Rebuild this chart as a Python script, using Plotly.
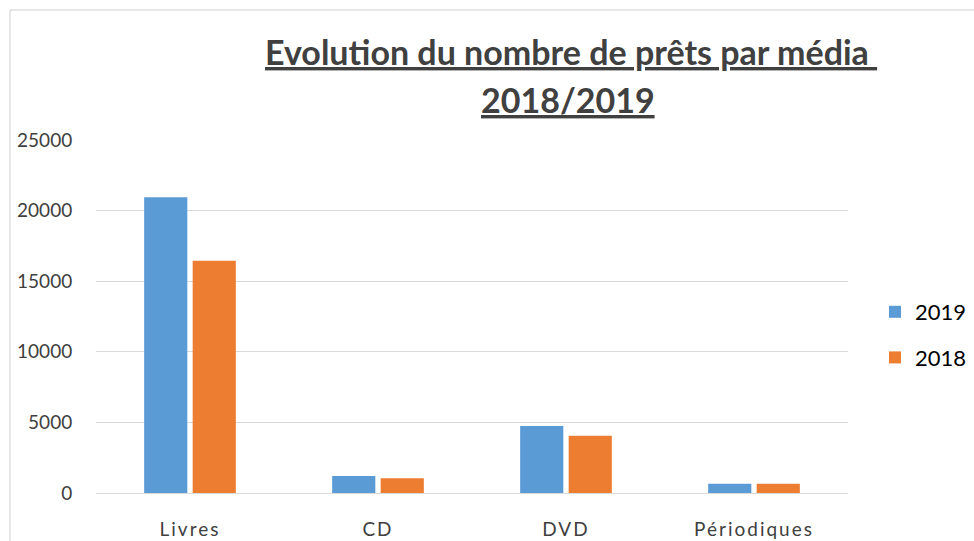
import plotly.graph_objects as go

categories = ["Livres", "CD", "DVD", "Périodiques"]
values_2019 = [20950, 1200, 4750, 650]
values_2018 = [16450, 1050, 4050, 650]
series_names = ["2019", "2018"]
title_line1 = "Evolution du nombre de prêts par média "
title_line2 = "2018/2019"

BLUE = "#5B9BD5"
ORANGE = "#ED7D31"

W, H = 974, 541
L = 96
R = W - 848
T = 140
B = H - 493
pw, ph = W - L - R, H - T - B


def px_x(x):
    return (x - L) / pw


def px_y(y):
    return (H - B - y) / ph


def cx(x):
    return x / W


def cy(y):
    return 1 - y / H


fig = go.Figure()
fig.add_trace(go.Bar(x=categories, y=values_2019, name=series_names[0],
                     marker=dict(color=BLUE, line=dict(width=0)), legendgroup="a"))
fig.add_trace(go.Bar(x=categories, y=values_2018, name=series_names[1],
                     marker=dict(color=ORANGE, line=dict(width=0)), legendgroup="b"))

ticktext = ['<span style="letter-spacing:2px">' + c + '</span>' for c in categories]

fig.update_layout(
    width=W, height=H,
    margin=dict(l=L, r=R, t=T, b=B, autoexpand=False),
    paper_bgcolor="white", plot_bgcolor="white",
    barmode="group", bargap=0.484, bargroupgap=0.11,
    font=dict(family="Lato, Open Sans, sans-serif", color="#404040"),
    showlegend=True,
    legend=dict(xref="container", yref="container", x=cx(875), y=cy(291),
                xanchor="left", yanchor="top",
                font=dict(size=22, color="#000000"), tracegroupgap=14,
                bgcolor="rgba(0,0,0,0)", itemwidth=30),
    xaxis=dict(showgrid=False, showline=False, ticks="outside", ticklen=19,
               tickcolor="rgba(0,0,0,0)", tickmode="array", automargin=False,
               tickvals=categories, ticktext=ticktext,
               tickfont=dict(size=19, color="#404040", family="Lato, sans-serif")),
    yaxis=dict(range=[0, 25000], dtick=5000, showgrid=True, gridcolor="#D9D9D9",
               gridwidth=1, zeroline=True, zerolinecolor="#D9D9D9", zerolinewidth=1,
               showline=False, ticks="outside", ticklen=19, tickcolor="rgba(0,0,0,0)",
               automargin=False,
               tickfont=dict(size=19, color="#404040"), tickformat="d"),
)

fig.add_annotation(text="<b><u>" + title_line1 + "</u></b>", xref="paper", yref="paper",
                   x=px_x(571), y=px_y(51), xanchor="center", yanchor="middle",
                   showarrow=False, font=dict(size=34, color="#404040",
                                              family="Lato, sans-serif"))
fig.add_annotation(text="<b><u>" + title_line2 + "</u></b>", xref="paper", yref="paper",
                   x=px_x(568), y=px_y(99), xanchor="center", yanchor="middle",
                   showarrow=False, font=dict(size=34, color="#404040",
                                              family="Lato, sans-serif"))

fig.add_shape(type="rect", xref="paper", yref="paper",
              x0=px_x(10), x1=px_x(1000), y0=px_y(580), y1=px_y(10),
              line=dict(color="#D0D0D0", width=1), fillcolor="rgba(0,0,0,0)", layer="below")

fig.write_html("out.html", config={"displayModeBar": False},
               post_script="document.body.style.margin='0';document.body.style.overflow='hidden';")
